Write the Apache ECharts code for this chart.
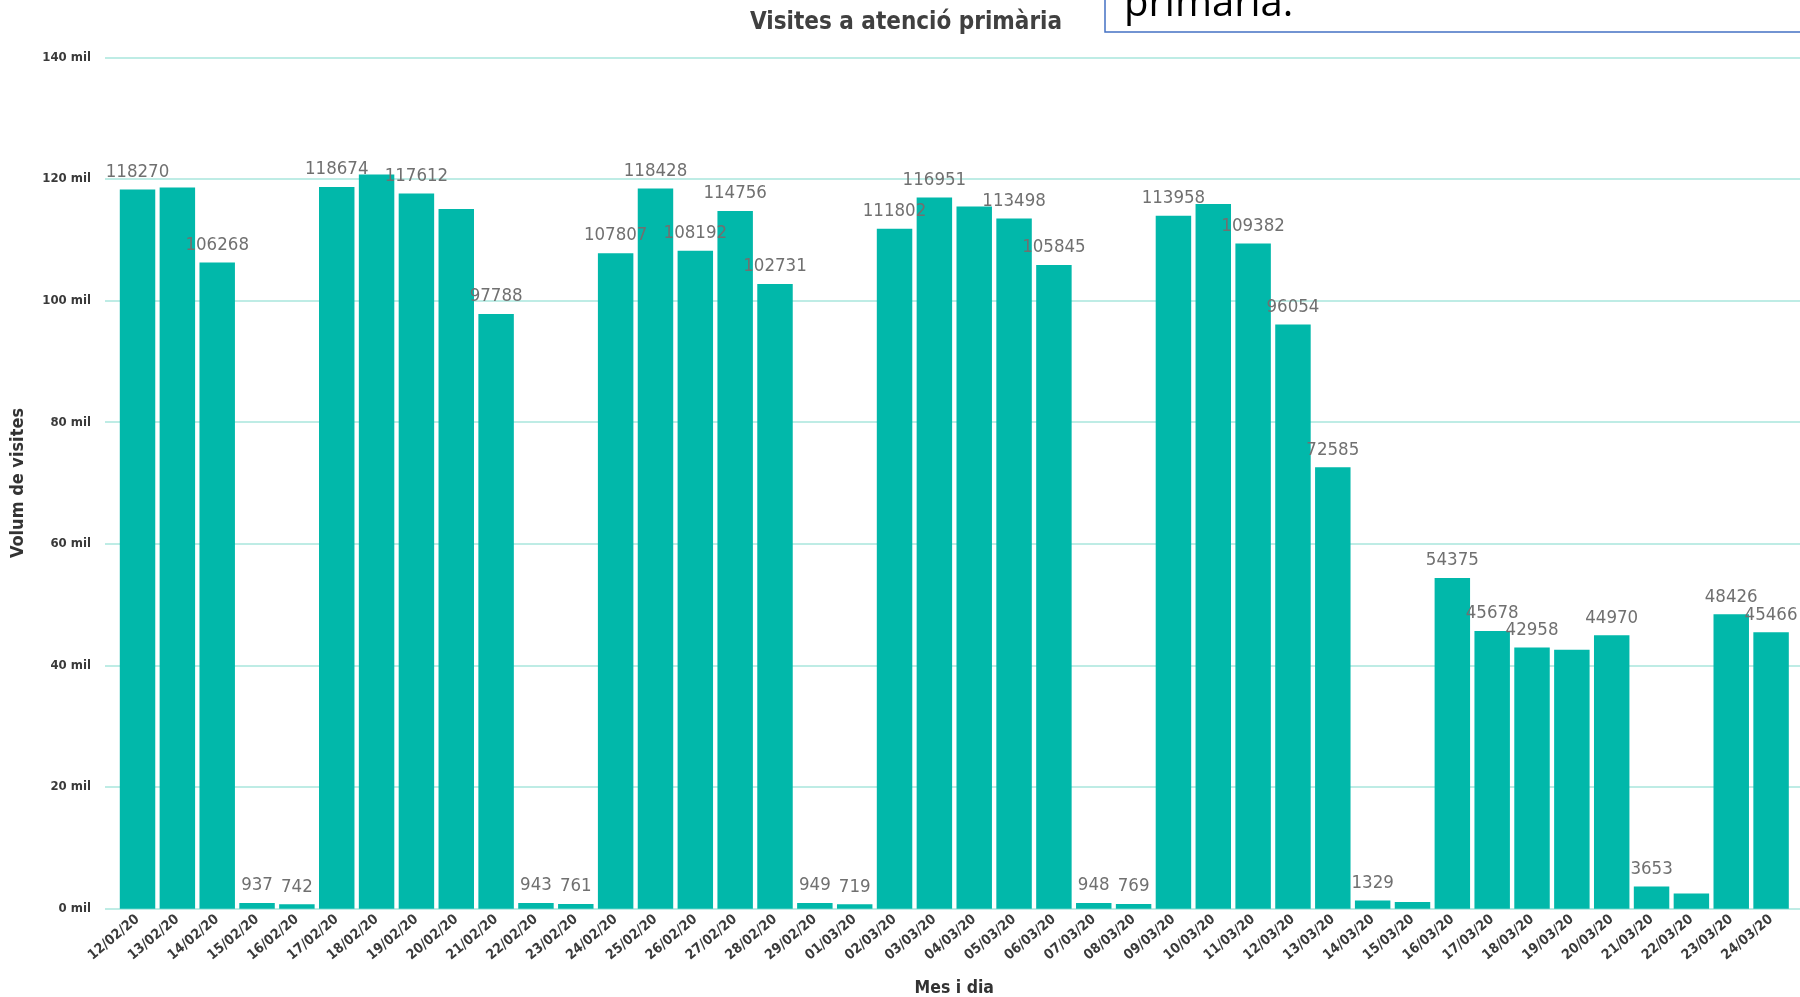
<!DOCTYPE html>
<html>
<head>
<meta charset="utf-8">
<title>Visites a atenció primària</title>
<script src="https://cdn.jsdelivr.net/npm/echarts@6/dist/echarts.min.js"></script>
<style>
  html, body { margin: 0; padding: 0; background: #fff; }
  #main { width: 1800px; height: 997px; }
</style>
</head>
<body>
<div id="main"></div>
<script>
// dies (Mes i dia)
const dates = [
  '12/02/20', '13/02/20', '14/02/20', '15/02/20', '16/02/20', '17/02/20', '18/02/20',
  '19/02/20', '20/02/20', '21/02/20', '22/02/20', '23/02/20', '24/02/20', '25/02/20',
  '26/02/20', '27/02/20', '28/02/20', '29/02/20', '01/03/20', '02/03/20', '03/03/20',
  '04/03/20', '05/03/20', '06/03/20', '07/03/20', '08/03/20', '09/03/20', '10/03/20',
  '11/03/20', '12/03/20', '13/03/20', '14/03/20', '15/03/20', '16/03/20', '17/03/20',
  '18/03/20', '19/03/20', '20/03/20', '21/03/20', '22/03/20', '23/03/20', '24/03/20'
];

// volum de visites
const visites = [
  118270, 118600, 106268, 937, 742, 118674, 120750,
  117612, 115050, 97788, 943, 761, 107807, 118428,
  108192, 114756, 102731, 949, 719, 111802, 116951,
  115480, 113498, 105845, 948, 769, 113958, 115880,
  109382, 96054, 72585, 1329, 1100, 54375, 45678,
  42958, 42600, 44970, 3653, 2500, 48426, 45466
];

// etiquetes que no es veuen a l'original
const hiddenLabels = ['13/02/20', '18/02/20', '20/02/20', '04/03/20', '10/03/20', '15/03/20', '19/03/20', '22/03/20'];

const yTicks = [0, 20000, 40000, 60000, 80000, 100000, 120000, 140000];

const FONT = "'DejaVu Sans Condensed', 'DejaVu Sans', sans-serif";
const TEAL = '#01b8aa';

var barData = visites.map(function (v, i) {
  return {
    value: v,
    label: { show: hiddenLabels.indexOf(dates[i]) < 0 }
  };
});

var chart = echarts.init(document.getElementById('main'), null, { renderer: 'canvas' });

var option = {
  animation: false,
  backgroundColor: '#fff',
  grid: [
    // graella de fons (línies)
    { left: 105, right: 0, top: 57.4, bottom: 88.3, outerBoundsMode: 'none', containLabel: false },
    // barres
    { left: 117.6, right: 9, top: 57.4, bottom: 88.3, outerBoundsMode: 'none', containLabel: false }
  ],
  xAxis: [
    { gridIndex: 0, type: 'value', show: false, min: 0, max: 1 },
    {
      gridIndex: 1,
      type: 'category',
      data: dates,
      name: 'Mes i dia',
      nameLocation: 'middle',
      nameGap: 71,
      nameTextStyle: { fontFamily: FONT, fontSize: 17.5, fontWeight: 'bold', color: '#333' },
      axisLine: { show: false },
      axisTick: { show: false },
      axisLabel: {
        interval: 0,
        rotate: 40,
        margin: 9,
        fontFamily: FONT,
        fontSize: 14,
        fontWeight: 'bold',
        color: '#3a3a3a'
      }
    }
  ],
  yAxis: [
    {
      gridIndex: 0,
      type: 'value',
      min: 0,
      max: yTicks[yTicks.length - 1],
      interval: yTicks[1] - yTicks[0],
      name: 'Volum de visites',
      nameLocation: 'middle',
      nameGap: 78,
      nameTextStyle: { fontFamily: FONT, fontSize: 18, fontWeight: 'bold', color: '#333' },
      axisLine: { show: false },
      axisTick: { show: false },
      splitLine: { lineStyle: { color: '#a8e6dd', width: 1.5 } },
      axisLabel: {
        margin: 14,
        fontFamily: FONT,
        fontSize: 13,
        fontWeight: 'bold',
        color: '#3a3a3a',
        formatter: function (v) { return (v / 1000) + ' mil'; }
      }
    },
    { gridIndex: 1, type: 'value', show: false, min: 0, max: yTicks[yTicks.length - 1] }
  ],
  series: [{
    type: 'bar',
    xAxisIndex: 1,
    yAxisIndex: 1,
    data: barData,
    barCategoryGap: '11%',
    itemStyle: { color: TEAL },
    label: {
      position: 'top',
      distance: 8,
      fontFamily: FONT,
      fontSize: 18.5,
      color: '#707070'
    },
    z: 3
  }],
  graphic: [
    {
      type: 'text',
      x: 906,
      y: 23,
      style: {
        text: 'Visites a atenció primària',
        fontFamily: FONT,
        fontSize: 24,
        fontWeight: 'bold',
        fill: '#404040',
        align: 'center',
        verticalAlign: 'middle'
      },
      z: 10
    },
    // quadre de text superposat (captura)
    {
      type: 'rect',
      shape: { x: 1105, y: -20, width: 720, height: 52 },
      style: { fill: '#fff', stroke: '#4472c4', lineWidth: 1.5 },
      z: 10
    },
    {
      type: 'text',
      x: 1124,
      y: 25,
      style: {
        text: 'primària.',
        fontFamily: "'Open Sans', 'Liberation Sans', sans-serif",
        fontSize: 40,
        fill: '#000',
        verticalAlign: 'bottom'
      },
      z: 11
    }
  ]
};

chart.setOption(option);
window.addEventListener('resize', chart.resize);
</script>
</body>
</html>
